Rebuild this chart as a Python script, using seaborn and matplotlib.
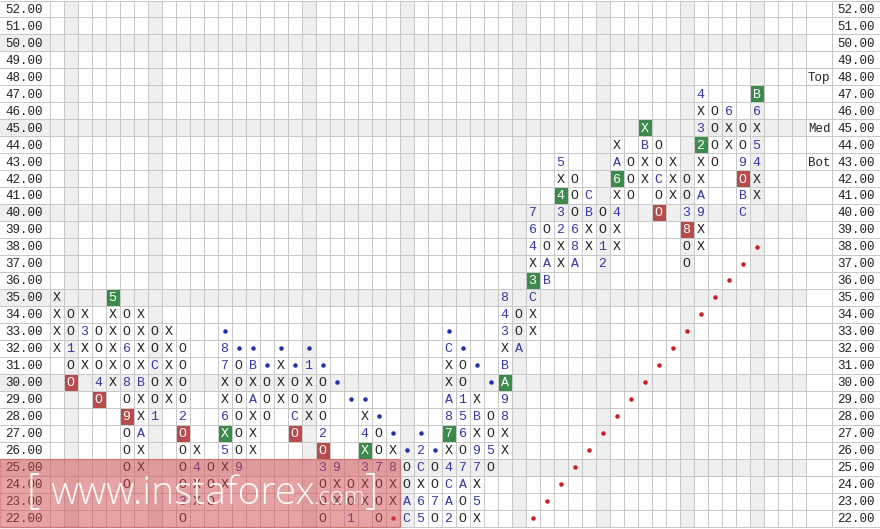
import numpy as np
import pandas as pd
import matplotlib
matplotlib.use('Agg')
import matplotlib.pyplot as plt
import seaborn as sns
from matplotlib.colors import ListedColormap
from matplotlib.patches import Rectangle

# 价格刻度（从上到下）
prices = list(range(52, 21, -1))

# 每一列：(最低价格, 从下往上的符号)
columns = [
    (32, "XXXX"),          # 0
    (30, "OO1OO"),         # 1
    (31, "XX3X"),          # 2
    (29, "O4OOO"),         # 3
    (30, "XXXXX5"),        # 4
    (24, "OOOO9O8O6OO"),   # 5
    (25, "XXAXXBXXXX"),    # 6
    (28, "1OOCOO"),        # 7
    (29, "XXXXX"),         # 8
    (22, "O3OOOO2OOOO"),   # 9
    (23, "XX4X"),          # 10
    (23, "OOO"),           # 11
    (24, "XX5X6XX78"),     # 12
    (25, "9OOOOOO"),       # 13
    (26, "XXXAXB"),        # 14
    (28, "OOO"),           # 15
    (29, "XXX"),           # 16
    (27, "OCOO"),          # 17
    (28, "XXX1"),          # 18
    (22, "OOO3O2OOO"),     # 19
    (23, "XX9"),           # 20
    (22, "1OO"),           # 21
    (23, "XX3X4X"),        # 22
    (22, "OOO7OO"),        # 23
    (23, "XX8X"),          # 24
    (22, "CAOO"),          # 25
    (22, "56XC2"),         # 26
    (22, "O7OO"),          # 27
    (22, "2AC4X78AXXC"),   # 28
    (22, "OOA7O651OO"),    # 29
    (22, "X5X79XBX"),      # 30
    (25, "O5OO"),          # 31
    (26, "XX89ABX348"),    # 32
    (32, "AOO"),           # 33
    (33, "XXC3X467"),      # 34
    (36, "BAOO"),          # 35
    (37, "XX234X5"),       # 36
    (37, "A86OOO"),        # 37
    (38, "XXBC"),          # 38
    (37, "21OO"),          # 39
    (38, "XX4X6AX"),       # 40
    (41, "OOO"),           # 41
    (42, "XXBX"),          # 42
    (40, "OOCOO"),         # 43
    (41, "XXX"),           # 44
    (37, "OO83OO"),        # 45
    (38, "XX9AXX23X4"),    # 46
    (43, "OOOO"),          # 47
    (44, "XX6"),           # 48
    (40, "CBO9OO"),        # 49
    (41, "XX45X6B"),       # 50
]
n_cols = 54

# 绿色/红色高亮格子 (列, 价格)
green_boxes = [(4, 35), (12, 27), (22, 26), (28, 27), (32, 30), (34, 36),
               (36, 41), (40, 42), (42, 45), (46, 44), (50, 47)]
red_boxes = [(1, 30), (3, 29), (5, 28), (9, 27), (17, 27), (19, 26),
             (43, 40), (45, 39), (49, 42)]

# 趋势线的点
blue_dots = [(12, 33), (13, 32), (14, 32), (16, 32), (18, 32), (15, 31),
             (17, 31), (19, 31), (20, 30), (21, 29), (22, 29), (23, 28),
             (24, 27), (26, 27), (25, 26), (27, 26), (28, 33), (29, 32),
             (30, 31), (31, 30)]
red_dots = [(24, 22), (34, 22), (35, 23), (36, 24), (37, 25), (38, 26),
            (39, 27), (40, 28), (41, 29), (42, 30), (43, 31), (44, 32),
            (45, 33), (46, 34), (47, 35), (48, 36), (49, 37), (50, 38)]

shaded_cols = [1, 7, 18, 25, 33, 39, 45, 50]
shaded_rows = [50, 45, 40, 35, 30, 25]
side_labels = {48: 'Top', 45: 'Med', 43: 'Bot'}

# 背景矩阵：0 白 1 灰 2 绿 3 红
bg = np.zeros((len(prices), n_cols))
bg[:, shaded_cols] = 1
for p in shaded_rows:
    bg[52 - p, :] = 1
for c, p in green_boxes:
    bg[52 - p, c] = 2
for c, p in red_boxes:
    bg[52 - p, c] = 3
bg_df = pd.DataFrame(bg, index=[f'{p:.2f}' for p in prices])

fig = plt.figure(figsize=(8.8, 5.29), dpi=100)
ax = fig.add_axes([49.5 / 880, 2.5 / 529, 756 / 880, 526 / 529])
sns.heatmap(bg_df, ax=ax, cmap=ListedColormap(['#ffffff', '#efefef', '#3d8b4c', '#b84c4a']),
            vmin=-0.5, vmax=3.5, cbar=False, linewidths=0,
            xticklabels=False, yticklabels=False)

# 网格线
px = lambda v: (v - 49.5) / 14
grid = dict(color='#c8c8c8', lw=0.72, antialiased=False, clip_on=False, zorder=2)
ax.hlines(np.arange(len(prices) + 1), px(0), px(880), **grid)
ax.vlines(np.arange(n_cols + 1), 0, len(prices), **grid)
ax.vlines([px(832), px(879.5)], 0, len(prices), **grid)

mono = 'Liberation Mono'
boxed = set(green_boxes) | set(red_boxes)
for c, (start, syms) in enumerate(columns):
    for k, s in enumerate(syms):
        p = start + k
        if (c, p) in boxed:
            color = 'white'
        elif s in 'XO':
            color = '#222222'
        else:
            color = '#3636a8'
        ax.text(c + 0.5, 52 - p + 0.55, s, ha='center', va='center',
                fontsize=9.5, family=mono, color=color, zorder=3)

bx, by = zip(*blue_dots)
ax.scatter(np.array(bx) + 0.5, 52 - np.array(by) + 0.5, s=5, color='#2430a8', zorder=3)
rx, ry = zip(*red_dots)
ax.scatter(np.array(rx) + 0.5, 52 - np.array(ry) + 0.5, s=5, color='#cc2020', zorder=3)

# 左右两侧的价格标签
for p in shaded_rows:
    ax.add_patch(Rectangle((px(0), 52 - p), px(49.5) - px(0), 1, color='#efefef',
                           clip_on=False, zorder=0))
for i, p in enumerate(prices):
    ax.text(px(5), i + 0.55, f'{p:.2f}', ha='left', va='center', fontsize=9,
            family=mono, color='#222222', clip_on=False)
    ax.text(px(856), i + 0.55, f'{p:.2f}', ha='center', va='center', fontsize=9,
            family=mono, color='#222222', clip_on=False)
for p, t in side_labels.items():
    ax.text(px(819), 52 - p + 0.55, t, ha='center', va='center', fontsize=9,
            family=mono, color='#222222', clip_on=False)

# 水印
ax.add_patch(Rectangle((px(0), 27), px(399.5) - px(0), 4, color='#d04848', alpha=0.5,
                       clip_on=False, zorder=5))
wm = dict(color='white', family=['Open Sans', 'DejaVu Sans'], fontweight='light',
          clip_on=False, zorder=6, alpha=0.95)
ax.text(px(33), 28.95, '[', ha='center', va='center', fontsize=30, **wm)
ax.text(px(50), 29.7, 'www.instaforex', ha='left', va='baseline', fontsize=28, **wm)
ax.text(px(313), 29.7, '.com', ha='left', va='baseline', fontsize=17, **wm)
ax.text(px(372), 28.95, ']', ha='center', va='center', fontsize=30, **wm)

fig.savefig('out.png', dpi=100)
